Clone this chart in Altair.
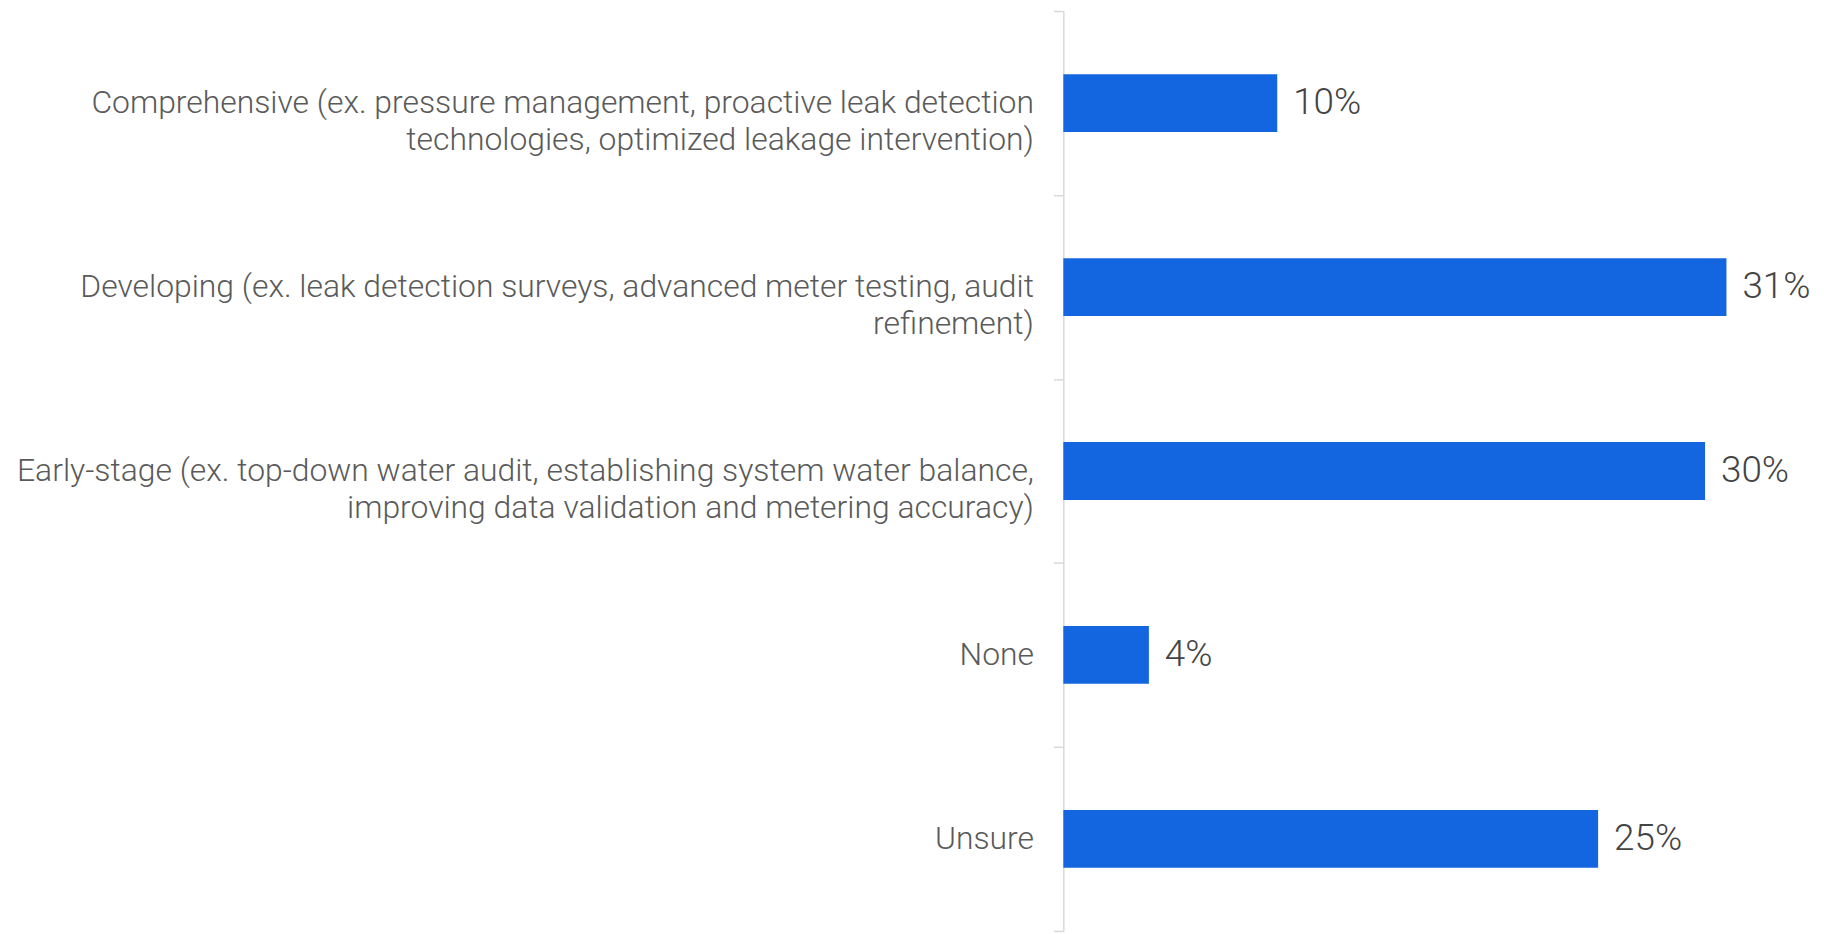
import altair as alt
import pandas as pd

categories = [
    "Comprehensive (ex. pressure management, proactive leak detection|technologies, optimized leakage intervention)",
    "Developing (ex. leak detection surveys, advanced meter testing, audit|refinement)",
    "Early-stage (ex. top-down water audit, establishing system water balance,|improving data validation and metering accuracy)",
    "None",
    "Unsure",
]
values = [10, 31, 30, 4, 25]
value_labels = ["10%", "31%", "30%", "4%", "25%"]

df = pd.DataFrame({"cat": categories, "val": values, "lab": value_labels})

y_enc = alt.Y(
    "cat:N",
    sort=categories,
    title=None,
    scale=alt.Scale(paddingInner=0, paddingOuter=0),
    axis=alt.Axis(
        labelExpr="split(datum.label, '|')",
        labelFont="Roboto",
        labelFontWeight=300,
        labelFontSize=32,
        labelColor="#5a5a5a",
        labelLineHeight=37,
        labelPadding=20,
        labelLimit=1300,
        labelAlign="right",
        labelBaseline="middle",
        tickBand="extent",
        tickSize=10,
        tickColor="#d9d9d9",
        domainColor="#d9d9d9",
        tickWidth=1.5,
        domainWidth=1.5,
        grid=False,
    ),
)

x_enc = alt.X("val:Q", scale=alt.Scale(domain=[0, 35], nice=False), axis=None)

bars = alt.Chart(df).mark_bar(color="#1366e0", height={"band": 0.314}).encode(
    y=y_enc, x=x_enc
)

text = alt.Chart(df).mark_text(
    align="left", baseline="middle", dx=16, font="Roboto", fontWeight=300,
    fontSize=37, color="#444444"
).encode(y=y_enc, x=x_enc, text="lab:N")

chart = (
    alt.layer(bars, text)
    .properties(
        width=752,
        height=924,
        autosize=alt.AutoSizeParams(type="none"),
        padding={"left": 1060, "top": 1, "right": 4, "bottom": 0},
        background="white",
    )
    .configure_view(strokeWidth=0, stroke="transparent")
)

chart.save("out.html", embed_options={"renderer": "svg", "actions": False})
